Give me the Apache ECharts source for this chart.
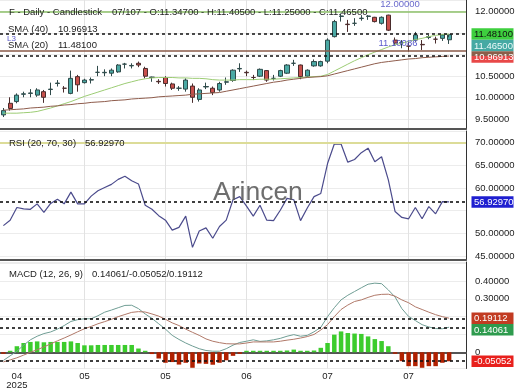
<!DOCTYPE html>
<html><head><meta charset="utf-8">
<script src="https://cdn.jsdelivr.net/npm/echarts@6/dist/echarts.min.js"></script>
<style>html,body{margin:0;padding:0;background:#fff}#c{width:520px;height:390px}</style>
</head><body><div id="c"></div>
<script>
// ---- data ----
const tickIndex = [2, 12, 24, 36, 48, 60];
const tickLabels = ['04\n2025', '05', '05', '06', '07', '07'];
const gridTickIndex = [12, 24, 36, 48, 60];
// [open, close, low, high]
const ohlc = [
[9.60,9.70,9.55,9.76],[9.87,9.75,9.70,10.01],[9.91,10.06,9.87,10.10],[10.08,10.09,10.01,10.14],
[10.10,10.11,10.01,10.20],[10.06,10.18,10.02,10.22],[10.14,10.01,9.88,10.18],[10.19,10.20,10.06,10.35],
[10.33,10.34,10.26,10.41],[10.22,10.22,10.12,10.27],[10.10,10.45,10.08,10.63],[10.49,10.30,10.14,10.53],
[10.35,10.41,10.33,10.44],[10.41,10.42,10.33,10.47],[10.59,10.59,10.50,10.74],[10.58,10.59,10.50,10.66],
[10.57,10.64,10.50,10.68],[10.60,10.76,10.58,10.78],[10.78,10.78,10.68,10.81],[10.74,10.75,10.68,10.80],
[10.80,10.76,10.71,10.84],[10.68,10.50,10.45,10.72],[10.47,10.48,10.37,10.49],[10.38,10.37,10.32,10.43],
[10.47,10.33,10.26,10.50],[10.32,10.22,10.18,10.35],[10.22,10.22,10.16,10.27],[10.20,10.41,10.14,10.45],
[10.27,10.01,9.88,10.33],[9.96,10.18,9.91,10.22],[10.25,10.26,10.20,10.35],[10.22,10.12,10.06,10.26],
[10.18,10.33,10.14,10.37],[10.36,10.37,10.30,10.47],[10.40,10.64,10.37,10.66],[10.67,10.68,10.60,10.80],
[10.59,10.58,10.50,10.63],[10.47,10.47,10.41,10.53],[10.50,10.66,10.48,10.68],[10.63,10.41,10.37,10.64],
[10.45,10.45,10.40,10.53],[10.50,10.63,10.48,10.65],[10.57,10.76,10.55,10.78],[10.80,10.80,10.74,10.88],
[10.76,10.49,10.43,10.77],[10.50,10.64,10.48,10.66],[10.74,10.84,10.72,10.89],[10.74,10.84,10.72,10.86],
[10.85,11.34,10.80,11.38],[11.42,11.77,11.40,11.81],[11.89,11.90,11.77,11.96],[11.71,11.70,11.53,11.81],
[11.73,11.73,11.67,11.85],[11.84,11.85,11.79,11.92],[11.89,11.90,11.81,11.92],[11.87,11.77,11.75,11.88],
[11.73,11.87,11.70,11.89],[11.92,11.57,11.55,11.93],[11.34,11.27,11.22,11.40],[11.28,11.28,11.15,11.34],
[11.20,11.20,11.07,11.30],[11.34,11.46,11.30,11.53],[11.24,11.23,11.11,11.34],[11.40,11.42,11.36,11.46],
[11.36,11.36,11.26,11.42],[11.38,11.46,11.32,11.48],[11.347,11.465,11.25,11.405]
];
const sma20 = [9.64,9.64,9.64,9.65,9.66,9.68,9.72,9.76,9.81,9.86,9.91,9.97,10.03,10.08,10.13,10.18,10.23,10.28,10.33,10.37,
10.41,10.44,10.46,10.47,10.47,10.47,10.46,10.46,10.45,10.45,10.44,10.42,10.41,10.41,10.41,10.42,10.42,10.42,10.43,10.43,
10.43,10.44,10.45,10.46,10.47,10.48,10.49,10.50,10.54,10.62,10.70,10.78,10.86,10.93,11.00,11.06,11.12,11.18,11.23,11.27,
11.31,11.35,11.38,11.42,11.45,11.47,11.481];
const sma40 = [9.71,9.72,9.73,9.74,9.76,9.77,9.78,9.80,9.81,9.83,9.84,9.86,9.87,9.89,9.90,9.91,9.93,9.94,9.95,9.97,
9.98,9.99,10.00,10.02,10.03,10.04,10.05,10.06,10.08,10.09,10.10,10.11,10.12,10.15,10.18,10.21,10.24,10.27,10.30,10.33,
10.36,10.38,10.41,10.43,10.45,10.47,10.48,10.49,10.51,10.55,10.59,10.63,10.67,10.71,10.75,10.79,10.82,10.84,10.86,10.88,
10.90,10.91,10.93,10.94,10.95,10.96,10.96913];
const rsi = [51.7,52.9,55.7,55.4,55.3,56.5,54.6,56.6,57.5,56.5,59.1,56.5,56.5,58.2,59.4,60.1,60.8,61.9,62.6,61.6,
60.9,56.2,55.3,53.9,52.9,50.7,51.3,53.8,46.9,50.5,51.2,48.9,51.5,52.9,57.4,58.1,56.0,53.8,56.2,52.9,
52.8,55.1,57.7,57.4,52.8,55.6,58.1,58.8,65.4,69.7,69.7,65.7,66.3,67.8,68.8,65.8,66.9,61.8,54.8,53.5,
53.2,55.7,53.2,55.9,54.3,57.0,56.9297];
const macd = [-0.046,-0.02,0.006,0.04,0.07,0.09,0.105,0.114,0.13,0.15,0.173,0.183,0.188,0.188,0.205,0.225,0.237,0.25,0.263,0.264,
0.245,0.215,0.19,0.16,0.13,0.095,0.072,0.052,0.035,0.02,0.01,0.006,0.006,0.02,0.04,0.055,0.062,0.07,0.061,0.064,
0.07,0.078,0.09,0.099,0.09,0.095,0.115,0.14,0.2,0.25,0.294,0.32,0.341,0.362,0.382,0.388,0.385,0.35,0.31,0.245,
0.201,0.178,0.155,0.142,0.133,0.132,0.14061];
const signal = [-0.054,-0.043,-0.031,-0.016,0.0,0.014,0.03,0.047,0.064,0.08,0.097,0.115,0.132,0.145,0.16,0.172,0.185,0.2,0.212,0.224,
0.228,0.226,0.215,0.203,0.185,0.165,0.15,0.13,0.112,0.095,0.075,0.062,0.054,0.048,0.047,0.047,0.052,0.058,0.058,0.058,
0.058,0.062,0.068,0.073,0.08,0.088,0.1,0.125,0.155,0.2,0.24,0.265,0.285,0.294,0.308,0.32,0.325,0.326,0.315,0.294,
0.278,0.255,0.24,0.225,0.211,0.2,0.19112];
const hist = [-0.006,0.004,0.034,0.052,0.058,0.061,0.056,0.058,0.058,0.058,0.061,0.052,0.039,0.039,0.041,0.041,0.041,0.041,0.041,0.041,
0.021,0.002,-0.01,-0.035,-0.059,-0.055,-0.069,-0.059,-0.087,-0.063,-0.065,-0.07,-0.059,-0.045,-0.02,-0.003,0.003,0.004,0.002,0.002,
0.002,0.006,0.01,0.015,0.003,0.003,0.01,0.025,0.052,0.099,0.117,0.108,0.105,0.103,0.089,0.074,0.063,0.034,-0.003,-0.05,
-0.078,-0.078,-0.087,-0.078,-0.078,-0.059,-0.05052];
const level12 = 12.0;
const levelBrown = 11.10086;
const rsiUpper = 70;
const priceTicks = [9.5, 10, 10.5, 12];
const rsiTicks = [45, 50, 60, 65, 70];
const macdTicks = [0, 0.3, 0.4];

// ---- chart ----
const FONT = 'Liberation Sans, Arial, sans-serif';
const categories = ohlc.map((d, i) => String(i)).concat(['p1', 'p2']);
const last = ohlc[ohlc.length - 1];
const lastSma20 = sma20[sma20.length - 1], lastSma40 = sma40[sma40.length - 1];
const lastRsi = rsi[rsi.length - 1];
const lastMacd = macd[macd.length - 1], lastSig = signal[signal.length - 1], lastHist = hist[hist.length - 1];
const f5 = v => v.toFixed(5);

const chart = echarts.init(document.getElementById('c'), null, {renderer: 'canvas', width: 520, height: 390});

function xAx(gi, showLabel) {
  return {
    type: 'category', gridIndex: gi, data: categories, boundaryGap: true,
    axisLine: {show: true, lineStyle: {color: '#555', width: 2}},
    axisTick: {show: false},
    axisLabel: showLabel ? {
      show: true, interval: (idx) => tickIndex.includes(idx),
      formatter: (v, idx) => tickLabels[tickIndex.indexOf(idx)] || '',
      fontSize: 9.5, color: '#222', fontFamily: FONT, margin: 3, lineHeight: 9
    } : {show: false},
    splitLine: {show: true, alignWithLabel: true, interval: (idx) => gridTickIndex.includes(idx),
      lineStyle: {color: '#e2e2e2', width: 1}}
  };
}
function yAx(gi, min, max, labels, fmt) {
  return {
    type: 'value', gridIndex: gi, position: 'right', min, max, scale: true,
    axisLine: {show: true, lineStyle: {color: '#333', width: 1}},
    axisTick: {show: false},
    axisLabel: {show: true, customValues: labels, formatter: fmt, fontSize: 9.5, color: '#222',
      fontFamily: FONT, margin: 9},
    splitLine: {show: true, lineStyle: {color: '#ececec'}}
  };
}
const dash = {color: '#111', type: [3, 3], width: 1.6};
function ml(items) {
  return {silent: true, symbol: ['none', 'none'], label: {show: false}, animation: false,
    data: items.map(it => ({yAxis: it[0], lineStyle: it[1]}))};
}

const option = {
  animation: false,
  textStyle: {fontFamily: FONT},
  grid: [
    {left: 0, right: 54, top: 0, height: 129},
    {left: 0, right: 54, top: 131, height: 129},
    {left: 0, right: 54, top: 262, height: 107}
  ],
  xAxis: [xAx(0, false), xAx(1, false), xAx(2, true)],
  yAxis: [
    yAx(0, 9.272, 12.272, priceTicks, v => f5(v)),
    yAx(1, 44.11, 72.58, rsiTicks, v => f5(v)),
    yAx(2, -0.0911, 0.5067, macdTicks, v => v === 0 ? '0' : f5(v))
  ],
  series: [
    {type: 'candlestick', xAxisIndex: 0, yAxisIndex: 0, data: ohlc, barWidth: 4.6,
      itemStyle: {color: '#4aa9a4', color0: '#c8504c', borderColor: '#2f4a4a', borderColor0: '#4a2c2c', borderWidth: 1}},
    {type: 'line', xAxisIndex: 0, yAxisIndex: 0, data: sma20, symbol: 'none',
      lineStyle: {color: '#9ccc74', width: 1},
      markLine: ml([[level12, {color: '#8cc068', type: 'solid', width: 1.5}], [lastSma20, dash]])},
    {type: 'line', xAxisIndex: 0, yAxisIndex: 0, data: sma40, symbol: 'none',
      lineStyle: {color: '#8e5c4c', width: 1},
      markLine: ml([[levelBrown, {color: '#8a5a48', type: 'solid', width: 1.5}], [lastSma40, dash]])},
    {type: 'line', xAxisIndex: 1, yAxisIndex: 1, data: rsi, symbol: 'none',
      lineStyle: {color: '#4b4b8c', width: 1.2},
      markLine: ml([[rsiUpper, {color: '#dcdc98', type: 'solid', width: 2}], [lastRsi, dash]])},
    {type: 'bar', xAxisIndex: 2, yAxisIndex: 2, barWidth: 4.5, barMinHeight: 1.5,
      data: hist.map(v => ({value: v, itemStyle: {color: v >= 0 ? '#3ccc2c' : '#b02000'}})),
      markLine: ml([[lastHist, dash]])},
    {type: 'line', xAxisIndex: 2, yAxisIndex: 2, data: macd, symbol: 'none',
      lineStyle: {color: '#6f9d94', width: 1},
      markLine: ml([[lastMacd, dash]])},
    {type: 'line', xAxisIndex: 2, yAxisIndex: 2, data: signal, symbol: 'none',
      lineStyle: {color: '#b07868', width: 1},
      markLine: ml([[lastSig, dash]])}
  ]
};
chart.setOption(option);

function txt(x, y, s, opts) {
  return Object.assign({type: 'text', x, y, z: 100, silent: true,
    style: Object.assign({text: s, fill: '#222', fontSize: 9.5, fontFamily: FONT, verticalAlign: 'middle'}, opts || {})});
}
function tags(axis, items) {
  const arr = items.map(t => Object.assign({}, t, {y: chart.convertToPixel({yAxisIndex: axis}, t.v)}));
  arr.sort((a, b) => a.y - b.y);
  for (let i = 1; i < arr.length; i++) if (arr[i].y < arr[i - 1].y + 11.5) arr[i].y = arr[i - 1].y + 11.5;
  const out = [];
  arr.forEach(t => {
    out.push({type: 'rect', z: 110, silent: true, shape: {x: 471.5, y: t.y - 5.75, width: 42, height: 11.5},
      style: {fill: t.bg}});
    out.push(txt(474, t.y + 0.5, t.label || f5(t.v), {fill: t.fg}));
    out[out.length - 1].z = 111;
  });
  return out;
}
const gradBR = new echarts.graphic.LinearGradient(0, 0, 0, 1, [
  {offset: 0, color: '#8b5e4a'}, {offset: 0.4, color: '#8b5e4a'}, {offset: 0.4, color: '#e84848'}, {offset: 1, color: '#e84848'}]);

const yLevel12 = chart.convertToPixel({yAxisIndex: 0}, level12);
const yLevelBr = chart.convertToPixel({yAxisIndex: 0}, levelBrown);

const graphics = [
  txt(9, 12.7, 'F - Daily - Candlestick'),
  txt(112, 12.7, '07/107 - O:' + f5(last[0]) + ' - H:' + f5(last[3]) + ' - L:' + f5(last[2]) + ' - C:' + f5(last[1])),
  txt(8, 29.3, 'SMA (40)'), txt(58, 29.3, f5(lastSma40)),
  txt(7, 38.5, 'L3', {fill: '#5a5acc', fontSize: 8}),
  txt(8, 45, 'SMA (20)'), txt(58, 45, f5(lastSma20)),
  txt(400, yLevel12 - 7, f5(level12), {fill: '#6a6acc', align: 'center'}),
  txt(398, yLevelBr - 7, f5(levelBrown), {fill: '#5a5acc', align: 'center'}),
  txt(9, 143.3, 'RSI (20, 70, 30)'), txt(85, 143.3, f5(lastRsi)),
  txt(9, 274, 'MACD (12, 26, 9)'), txt(92, 274, f5(lastMacd) + '/' + f5(lastHist) + '/' + f5(lastSig)),
  txt(213, 192.5, 'Arincen', {fontSize: 26.5, fill: '#5e5e5e', opacity: 0.9})
].concat(
  tags(0, [
    {v: lastSma20, bg: '#3ecf3e', fg: '#111'},
    {v: last[1], bg: '#45a9a3', fg: '#eefafa'},
    {v: lastSma40, bg: gradBR, fg: '#fff'}
  ]),
  tags(1, [{v: lastRsi, bg: '#1f1fd0', fg: '#fff'}]),
  tags(2, [
    {v: lastSig, bg: '#c23b22', fg: '#fff'},
    {v: lastMacd, bg: '#2e9b4e', fg: '#fff'},
    {v: lastHist, bg: '#e8201c', fg: '#fff'}
  ])
);
chart.setOption({graphic: graphics});
</script>
</body></html>
